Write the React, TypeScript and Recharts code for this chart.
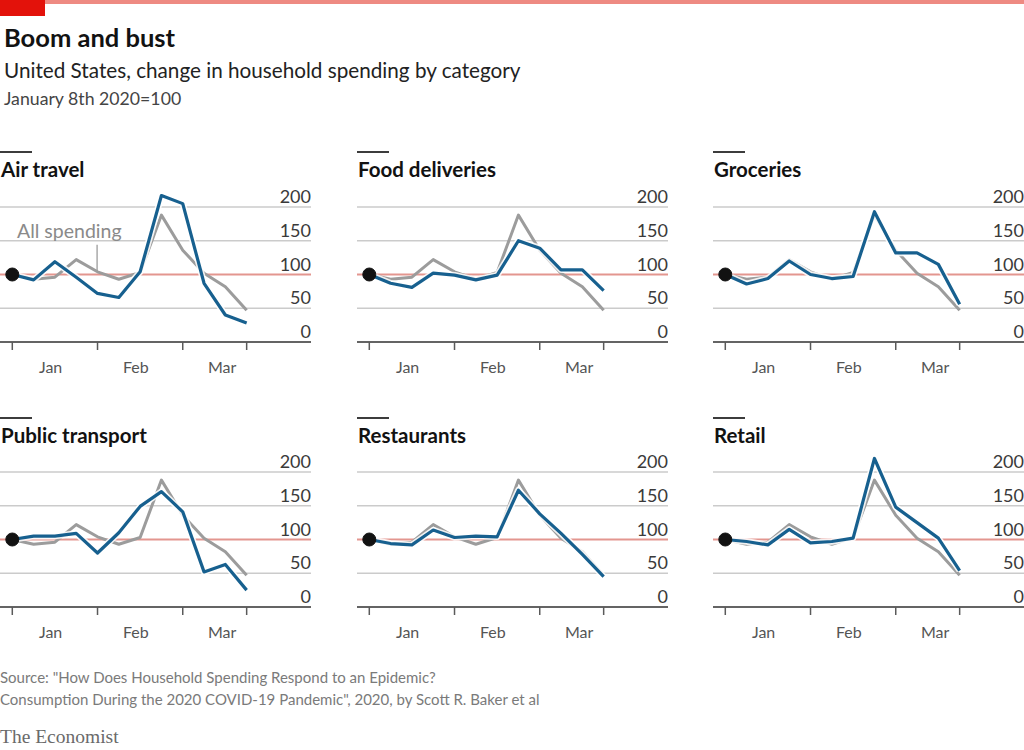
import React from 'react';
import { LineChart, Line, XAxis, YAxis, ReferenceLine, ReferenceDot } from 'recharts';

// ---- data ----
const weeks = [0, 1, 2, 3, 4, 5, 6, 7, 8, 9, 10, 11];
const allSpending = [100, 93, 96, 122, 104, 93, 103, 188, 136, 102, 82, 47];
const airTravel = [100, 92, 119, 96, 72, 66, 104, 217, 205, 87, 40, 28];
const foodDeliveries = [100, 87, 81, 102, 99, 92, 99, 150, 139, 107, 107, 76];
const groceries = [100, 86, 94, 120, 100, 94, 97, 193, 132, 132, 115, 56];
const publicTransport = [100, 105, 105, 109, 80, 110, 149, 171, 141, 52, 63, 25];
const restaurants = [100, 94, 92, 114, 103, 105, 104, 173, 138, 109, 78, 45];
const retail = [100, 97, 92, 115, 95, 97, 102, 220, 148, 125, 102, 54];

const panelTitles = ['Air travel', 'Food deliveries', 'Groceries', 'Public transport', 'Restaurants', 'Retail'];
const panelSeries = [airTravel, foodDeliveries, groceries, publicTransport, restaurants, retail];

const yTicks = [0, 50, 100, 150, 200];
const monthTickPositions = [0, 4, 8, 11];
const monthLabelPositions = [1.8, 5.8, 9.85];
const monthLabels = ['Jan', 'Feb', 'Mar'];
const baseline = 100;

// ---- layout / style ----
const PANEL_LEFT = [0, 357, 713];
const ROW_TOP = [180, 445];
const TITLE_TOP = [151, 417];
const CHART_W = 311;
const CHART_H = 202;
const X_DOMAIN: [number, number] = [-0.577, 14.02];
const Y_DOMAIN: [number, number] = [0, 240];

const BLUE = '#17608f';
const GREY = '#9c9c9c';
const RED = '#e3968f';
const GRID = '#cbcbcb';
const AXIS = '#5a5a5a';
const FONT = 'Lato, "Open Sans", sans-serif';

const makeYLabel = (value: number) => (props: any) => {
  const vb = props.viewBox || {};
  return (
    <text x={(vb.x || 0) + (vb.width || 0)} y={(vb.y || 0) - 4} textAnchor="end" fontSize={18} fill="#3a3a3a" fontFamily={FONT}>
      {value}
    </text>
  );
};

const MonthTick = (props: any) => {
  const { x, y, index } = props;
  return (
    <text x={x} y={y + 19} textAnchor="middle" fontSize={16} fill="#555" fontFamily={FONT}>
      {monthLabels[index] ?? ''}
    </text>
  );
};

function Panel({ idx }: { idx: number }) {
  const col = idx % 3;
  const row = Math.floor(idx / 3);
  const series = panelSeries[idx];
  const rows = weeks.map((w, i) => ({ w, all: allSpending[i], cat: series[i] }));
  return (
    <>
      <div
        style={{
          position: 'absolute',
          left: PANEL_LEFT[col],
          top: TITLE_TOP[row],
          width: 32,
          height: 2,
          background: '#3c3c3c',
        }}
      />
      <div
        style={{
          position: 'absolute',
          left: PANEL_LEFT[col] + 1,
          top: TITLE_TOP[row] + 6,
          fontFamily: FONT,
          fontWeight: 700,
          fontSize: 20.5,
          color: '#121212',
          whiteSpace: 'nowrap',
        }}
      >
        {panelTitles[idx]}
      </div>
      <div style={{ position: 'absolute', left: PANEL_LEFT[col], top: ROW_TOP[row] }}>
        <LineChart width={CHART_W} height={CHART_H} data={rows} margin={{ top: 0, right: 0, bottom: 0, left: 0 }}>
          <XAxis
            dataKey="w"
            type="number"
            domain={X_DOMAIN}
            allowDataOverflow
            ticks={monthTickPositions}
            tick={() => <g />}
            tickSize={8}
            tickLine={{ stroke: AXIS, strokeWidth: 1.5 }}
            axisLine={{ stroke: AXIS, strokeWidth: 1.6 }}
            height={10}
          />
          <XAxis
            xAxisId="months"
            dataKey="w"
            type="number"
            domain={X_DOMAIN}
            allowDataOverflow
            ticks={monthLabelPositions}
            tick={<MonthTick />}
            tickLine={false}
            axisLine={false}
            tickSize={0}
            height={30}
          />
          <YAxis hide domain={Y_DOMAIN} allowDataOverflow />
          {yTicks.map((t) => (
            <ReferenceLine
              key={t}
              y={t}
              stroke={t === 0 ? AXIS : t === baseline ? RED : GRID}
              strokeWidth={t === 0 ? 1.6 : t === baseline ? 2 : 1.3}
              label={makeYLabel(t)}
              zIndex={-50}
            />
          ))}
          {idx === 0 && (
            <ReferenceLine
              segment={[
                { x: 3.98, y: 104 },
                { x: 3.98, y: 144 },
              ]}
              stroke={GREY}
              strokeWidth={1.3}
            />
          )}
          <Line dataKey="all" stroke={GREY} strokeWidth={3} dot={false} isAnimationActive={false} strokeLinejoin="round" />
          <Line dataKey="cat" stroke="#ffffff" strokeOpacity={0.85} strokeWidth={6.5} dot={false} isAnimationActive={false} strokeLinejoin="round" />
          <Line dataKey="cat" stroke={BLUE} strokeWidth={3.2} dot={false} isAnimationActive={false} strokeLinejoin="round" />
          <ReferenceDot x={weeks[0]} y={baseline} r={6.5} fill="#121212" stroke="#121212" />
        </LineChart>
      </div>
      {idx === 0 && (
        <div
          style={{
            position: 'absolute',
            left: 17,
            top: 219,
            fontFamily: FONT,
            fontSize: 19.5,
            color: '#8a8a8a',
            whiteSpace: 'nowrap',
          }}
        >
          All spending
        </div>
      )}
    </>
  );
}

export default function App() {
  return (
    <div
      style={{
        position: 'absolute',
        left: 0,
        top: 0,
        width: 1024,
        height: 750,
        background: '#ffffff',
        overflow: 'hidden',
        fontFamily: FONT,
      }}
    >
      <div style={{ position: 'absolute', left: 0, top: 0, width: 1024, height: 4, background: '#ee8a82' }} />
      <div style={{ position: 'absolute', left: 0, top: 0, width: 45, height: 16, background: '#e3120b' }} />
      <div style={{ position: 'absolute', left: 4, top: 22, fontSize: 25.5, fontWeight: 700, color: '#121212', whiteSpace: 'nowrap' }}>
        Boom and bust
      </div>
      <div style={{ position: 'absolute', left: 4, top: 58, fontSize: 20.7, color: '#222', whiteSpace: 'nowrap' }}>
        United States, change in household spending by category
      </div>
      <div style={{ position: 'absolute', left: 4, top: 88, fontSize: 17.7, color: '#444', whiteSpace: 'nowrap' }}>
        January 8th 2020=100
      </div>
      {[0, 1, 2, 3, 4, 5].map((i) => (
        <Panel key={i} idx={i} />
      ))}
      <div style={{ position: 'absolute', left: 0, top: 666, fontSize: 15, color: '#7a7a7a', lineHeight: '22px', whiteSpace: 'nowrap' }}>
        <div>Source: "How Does Household Spending Respond to an Epidemic?</div>
        <div>Consumption During the 2020 COVID-19 Pandemic", 2020, by Scott R. Baker et al</div>
      </div>
      <div
        style={{
          position: 'absolute',
          left: 0,
          top: 726,
          fontSize: 19.5,
          color: '#6a6a6a',
          fontFamily: '"Liberation Serif", "DejaVu Serif", serif',
          whiteSpace: 'nowrap',
        }}
      >
        The Economist
      </div>
    </div>
  );
}
